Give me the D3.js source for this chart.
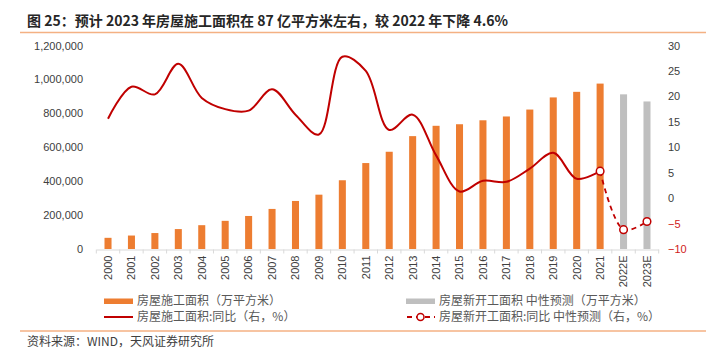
<!DOCTYPE html>
<html><head><meta charset="utf-8">
<script src="https://cdn.jsdelivr.net/npm/d3@7/dist/d3.min.js"></script>
<style>
body{margin:0;background:#fff;}
text{font-family:"Liberation Sans","Noto Sans CJK SC",sans-serif;}
.cjk{font-family:"Noto Sans CJK SC",sans-serif;}
</style></head>
<body><svg id="c" width="720" height="357"></svg>
<script>
const categories = ["2000","2001","2002","2003","2004","2005","2006","2007","2008","2009","2010","2011","2012","2013","2014","2015","2016","2017","2018","2019","2020","2021","2022E","2023E"];
const areaYears = categories.slice(0,22);
const areaValues = [65897,79412,94104,117526,140451,166053,194786,236318,283266,320368,405356,506775,573418,665572,726482,735693,758975,781484,822300,893821,926759,975387];
const forecastYears = ["2022E","2023E"];
const forecastValues = [912000,870000];
const yoyValues = [15.6,21.9,20.4,26.4,19.7,17.5,17.2,21.4,16.4,12.5,27.8,25.0,13.4,16.4,8.4,1.3,3.4,3.2,5.8,8.9,3.8,5.3];
const forecastYoyYears = ["2021","2022E","2023E"];
const forecastYoyValues = [5.3,-6.2,-4.6];
const leftTicks = [0,200000,400000,600000,800000,1000000,1200000];
const rightTicks = [-10,-5,0,5,10,15,20,25,30];

const svg = d3.select("#c");
const orange="#ed7d31", grey="#bfbfbf", red="#c00000";

// title
svg.append("text").attr("class","cjk").attr("x",27).attr("y",25.5)
  .attr("font-size",14).attr("font-weight","bold").attr("fill","#262626")
  .text("图 25：预计 2023 年房屋施工面积在 87 亿平方米左右，较 2022 年下降 4.6%");
svg.append("line").attr("x1",20).attr("x2",706).attr("y1",32.5).attr("y2",32.5)
  .attr("stroke","#f4b183").attr("stroke-width",1.5);

const x = d3.scaleBand().domain(categories).range([96.3,658.7]).paddingInner(0.7).paddingOuter(0.35);
const cx = d => x(d)+x.bandwidth()/2;
const yL = d3.scaleLinear().domain([0,1200000]).range([249,45.5]);
const yR = d3.scaleLinear().domain([-10,30]).range([249,45.5]);

// left axis
const gl = svg.append("g").attr("transform","translate(83,0)")
  .call(d3.axisLeft(yL).tickValues(leftTicks).tickSize(0).tickPadding(0).tickFormat(d3.format(",")));
gl.select(".domain").remove();
gl.selectAll("text").attr("font-size",11).attr("fill","#404040");

// right axis
const gr = svg.append("g").attr("transform","translate(668,0)")
  .call(d3.axisRight(yR).tickValues(rightTicks).tickSize(0).tickPadding(0));
gr.select(".domain").remove();
gr.selectAll("text").attr("font-size",11).attr("fill",d=>d<0?"#d02020":"#404040");

// bars
svg.append("g").selectAll("rect").data(areaYears).join("rect")
  .attr("x",d=>x(d)).attr("width",x.bandwidth())
  .attr("y",(d,i)=>yL(areaValues[i])).attr("height",(d,i)=>yL(0)-yL(areaValues[i]))
  .attr("fill",orange);
svg.append("g").selectAll("rect").data(forecastYears).join("rect")
  .attr("x",d=>x(d)).attr("width",x.bandwidth())
  .attr("y",(d,i)=>yL(forecastValues[i])).attr("height",(d,i)=>yL(0)-yL(forecastValues[i]))
  .attr("fill",grey);

// x axis
const step = x.step();
const gx = svg.append("g").attr("transform","translate(0,249.5)")
  .call(d3.axisBottom(x).tickSize(0).tickPadding(0));
gx.select(".domain").attr("stroke","#d9d9d9");
gx.selectAll("text").attr("font-size",11).attr("fill","#404040")
  .attr("text-anchor","end").attr("dy","0.35em")
  .attr("transform","translate(0,6) rotate(-90)").attr("x",0).attr("y",0);
gx.selectAll(".tick").each(function(d){
  d3.select(this).append("line").attr("x1",-step/2).attr("x2",-step/2).attr("y1",0).attr("y2",4).attr("stroke","#d9d9d9");
});
gx.append("line").attr("x1",658.7).attr("x2",658.7).attr("y1",0).attr("y2",4).attr("stroke","#d9d9d9");

// yoy line
const line = d3.line().curve(d3.curveCatmullRom.alpha(0.5));
svg.append("path").attr("d",line(areaYears.map((d,i)=>[cx(d),yR(yoyValues[i])])))
  .attr("fill","none").attr("stroke",red).attr("stroke-width",2);
svg.append("path").attr("d",line(forecastYoyYears.map((d,i)=>[cx(d),yR(forecastYoyValues[i])])))
  .attr("fill","none").attr("stroke",red).attr("stroke-width",1.8).attr("stroke-dasharray","5,4");
svg.append("g").selectAll("circle").data(forecastYoyYears).join("circle")
  .attr("cx",d=>cx(d)).attr("cy",(d,i)=>yR(forecastYoyValues[i])).attr("r",3.8)
  .attr("fill","#fff").attr("stroke",red).attr("stroke-width",1.5);

// legend
const lg = svg.append("g").attr("class","cjk");
const lt = (xx,yy,t)=>lg.append("text").attr("class","cjk").attr("x",xx).attr("y",yy).attr("dy","0.35em")
  .attr("font-size",12).attr("fill","#595959").text(t);
lg.append("rect").attr("x",104).attr("y",298.5).attr("width",29).attr("height",5.5).attr("fill",orange);
lt(137,301,"房屋施工面积（万平方米）");
lg.append("rect").attr("x",406).attr("y",298.5).attr("width",29).attr("height",5.5).attr("fill",grey);
lt(439,301,"房屋新开工面积 中性预测（万平方米）");
lg.append("line").attr("x1",104).attr("x2",133).attr("y1",317).attr("y2",317).attr("stroke",red).attr("stroke-width",2);
lt(137,317,"房屋施工面积:同比（右，%）");
lg.append("line").attr("x1",406).attr("x2",435).attr("y1",317).attr("y2",317).attr("stroke",red).attr("stroke-width",1.8).attr("stroke-dasharray","5,4").attr("stroke-dashoffset",-1);
lg.append("circle").attr("cx",420.5).attr("cy",317).attr("r",3.5).attr("fill","#fff").attr("stroke",red).attr("stroke-width",1.5);
lt(439,317,"房屋新开工面积:同比 中性预测（右，%）");

// source
svg.append("line").attr("x1",20).attr("x2",706).attr("y1",331).attr("y2",331)
  .attr("stroke","#f4b183").attr("stroke-width",1.5);
svg.append("text").attr("class","cjk").attr("x",27).attr("y",342).attr("dy","0.35em")
  .attr("font-size",12).attr("fill","#404040").text("资料来源：WIND，天风证券研究所");
</script></body></html>
